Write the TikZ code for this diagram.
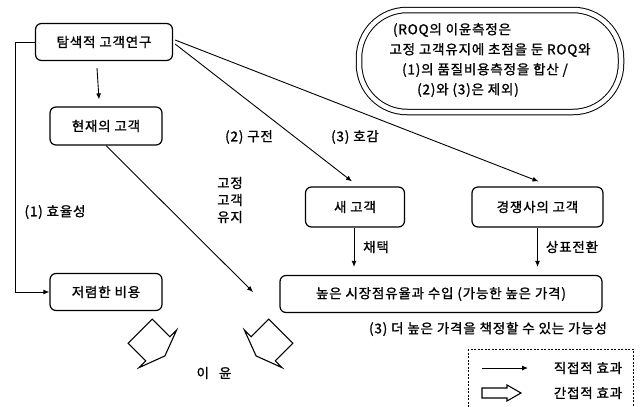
\documentclass[tikz,border=0pt]{standalone}
\usepackage{fontspec}
\setmainfont{Noto Sans CJK KR}[LetterSpace=6, FakeBold=1.2]
\usetikzlibrary{arrows.meta}
\begin{document}
\begin{tikzpicture}[x=1pt,y=-1pt,
  every node/.style={font=\fontsize{13.5}{17}\selectfont},
  box/.style={draw, line width=1.2pt, rounded corners=6pt, inner sep=0pt, align=center},
  arr/.style={line width=0.9pt, -{Latex[length=6pt,width=5pt]}},
  lbl/.style={inner sep=0pt, align=center},
  small/.style={inner sep=0pt, font=\fontsize{13.5}{17}\selectfont},
  blk/.style={draw, line width=1.1pt, line join=miter}]
\useasboundingbox (0,0) rectangle (640,407);

% boxes
\node[box, minimum width=137pt, minimum height=37pt] (tam) at (104,42) {탐색적 고객연구};
\node[box, minimum width=112pt, minimum height=38pt] (cur) at (106,126) {현재의 고객};
\node[box, minimum width=112pt, minimum height=37pt] (cheap) at (106,292) {저렴한 비용};
\node[box, minimum width=99pt, minimum height=40pt] (newc) at (355,207) {새 고객};
\node[box, minimum width=131pt, minimum height=40pt] (comp) at (537.5,207) {경쟁사의 고객};
\node[box, minimum width=322pt, minimum height=37pt] (high) at (441,294) {높은 시장점유율과 수입 (가능한 높은 가격)};

% ROQ oval
\node[draw, double, double distance=4.5pt, line width=1pt, rounded corners=48pt,
      minimum width=262pt, minimum height=102pt, inner sep=0pt] (roq) at (490,61) {};
\node[small] (r1) at (452,30) {(ROQ의 이윤측정은};
\node[small] (r2) at (490,50) {고정 고객유지에 초점을 둔 ROQ와};
\node[small] (r3) at (485,70) {(1)의 품질비용측정을 합산 /};
\node[small] (r4) at (468,90) {(2)와 (3)은 제외)};

% connectors
\coordinate (lft) at (15,42);
\draw[arr] (tam.west) -- (lft) |- (cheap.west);
\draw[arr] ([shift={(-7,7)}]tam.south) -- ([shift={(-7,-7)}]cur.north);
\draw[arr] ([shift={(2,2)}]tam.east) -- ([shift={(-3,-5)}]newc.north);
\draw[arr] ([shift={(2,-2)}]tam.east) -- ([shift={(1,-5)}]comp.north);
\coordinate (ptip) at (253,292);
\draw[arr] (cur.south) -- (ptip);
\draw[arr, shorten >=8pt] ([xshift=-1pt]newc.south) -- ([xshift=-1pt]newc.south |- high.north);
\draw[arr, shorten >=8pt] (comp.south) -- (comp.south |- high.north);

% labels
\node[lbl] (l1) at (55,212) {(1) 효율성};
\node[lbl] (l2) at (249,137) {(2) 구전};
\node[lbl] (l3) at (355,137) {(3) 호감};
\node[lbl] (l4) at (230,200) {고정\\고객\\유지};
\node[lbl] (l5) at (376,247) {채택};
\node[lbl] (l6) at (572,247) {상표전환};
\node[lbl] (l7) at (488,329) {(3) 더 높은 가격을 책정할 수 있는 가능성};
\node[lbl] (l8) at (214,373) {이\hspace{10pt}윤};

% block arrows
\begin{scope}[shift={(149,340)}, rotate=-45]
  \draw[blk] (-12.5,-17) -- (12.5,-17) -- (12.5,-26.5) -- (22.5,0) -- (12.5,26.5) -- (12.5,17) -- (-12.5,17) -- cycle;
\end{scope}
\begin{scope}[shift={(272,340)}, rotate=-135]
  \draw[blk] (-12.5,-17) -- (12.5,-17) -- (12.5,-26.5) -- (22.5,0) -- (12.5,26.5) -- (12.5,17) -- (-12.5,17) -- cycle;
\end{scope}

% legend
\draw[line width=0.8pt, dash pattern=on 2pt off 1.5pt] (468,349) rectangle (633,412);
\coordinate (d1) at (482,368);
\coordinate (d2) at (528,368);
\draw[arr] (d1) -- (d2);
\draw[blk] (482,388) -- (507,388) -- (507,385) -- (521,393) -- (507,401) -- (507,398) -- (482,398) -- cycle;
\node[lbl] (g1) at (588,368) {직접적 효과};
\node[lbl] (g2) at (588,393) {간접적 효과};
\end{tikzpicture}
\end{document}
